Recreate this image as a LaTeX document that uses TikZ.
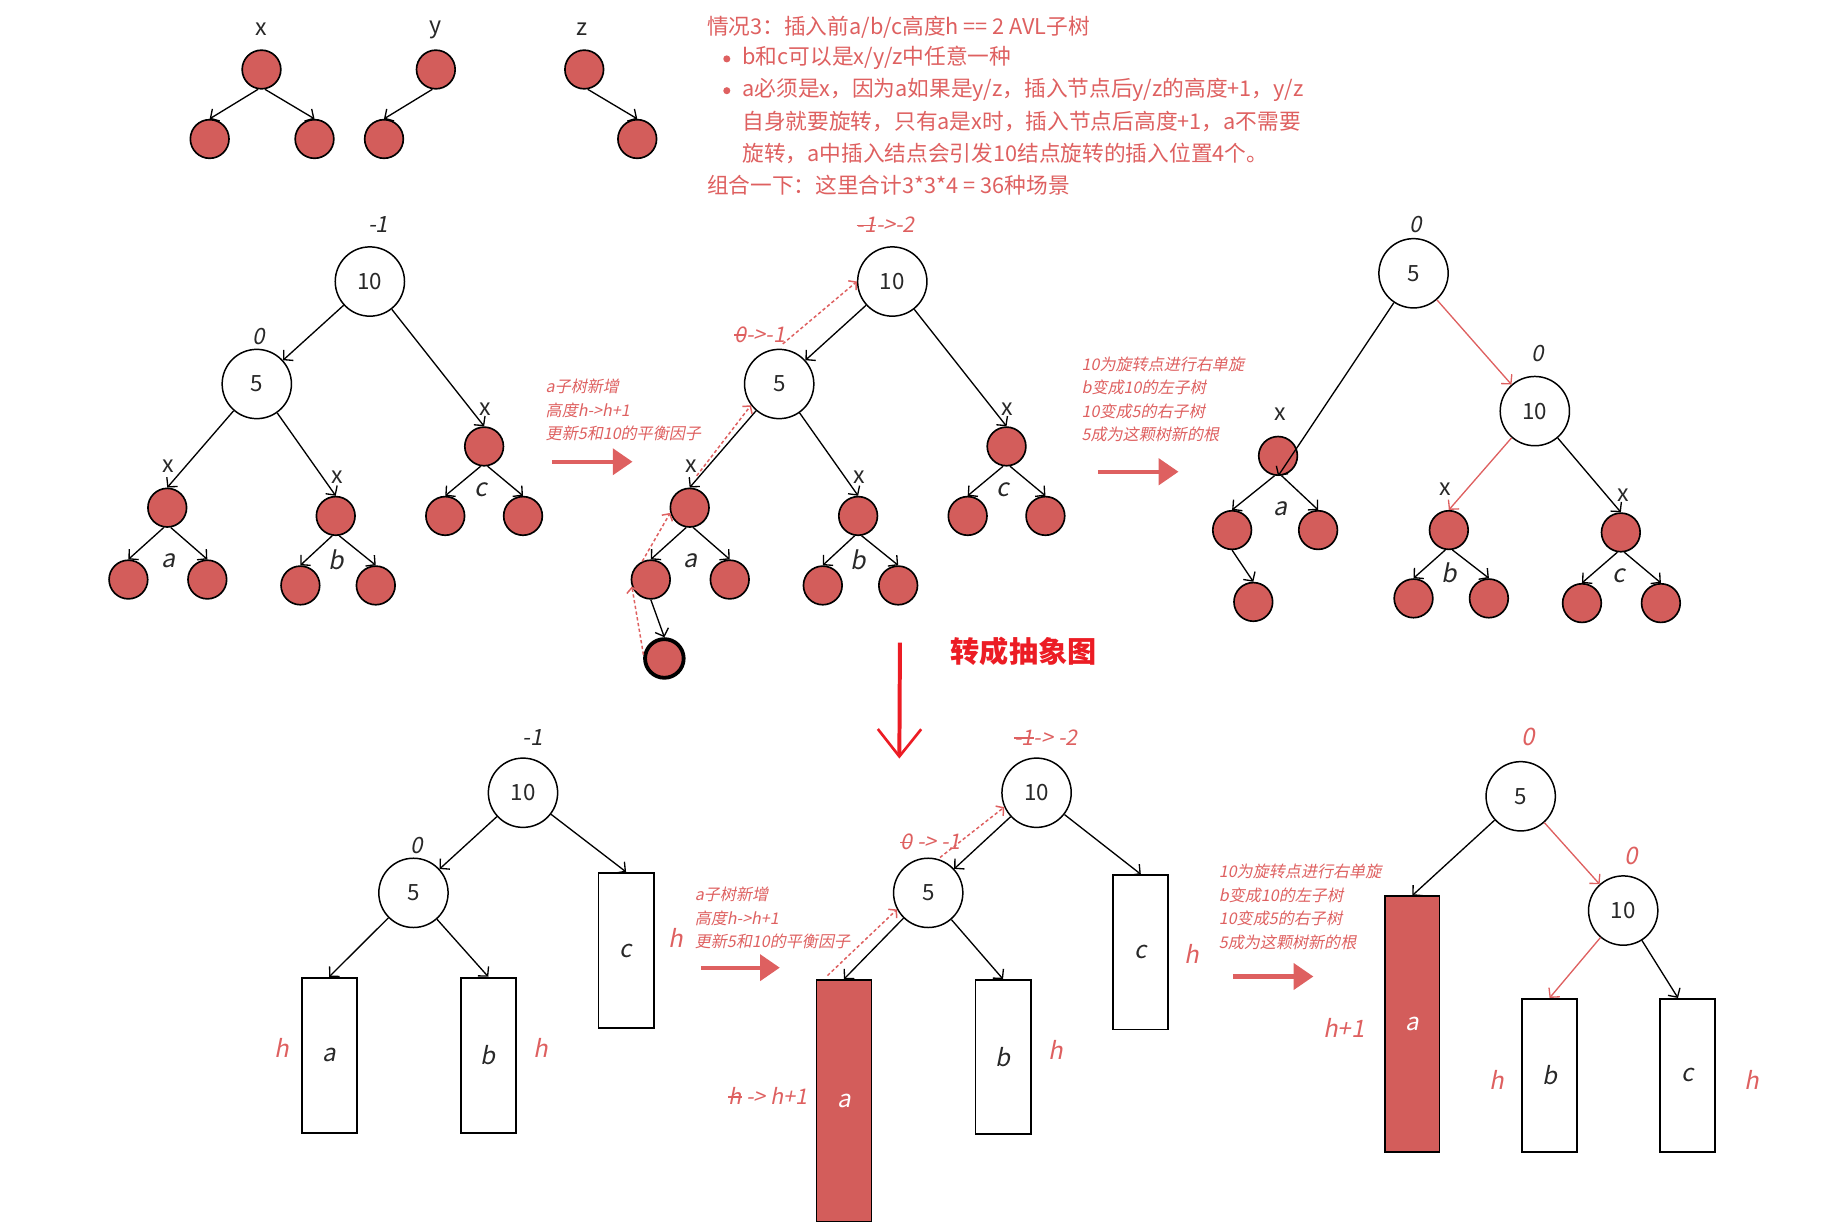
\documentclass[tikz,border=0pt]{standalone}
\usepackage{fontspec}
\setmainfont{Noto Sans CJK SC}
\newfontfamily\slfont[FakeSlant=0.2]{Noto Sans CJK SC}
\newcommand\strk[1]{\setbox0\hbox{#1}\rlap{\copy0}\rule[0.3em]{\wd0}{0.065em}}
\usetikzlibrary{arrows.meta,calc}
\definecolor{nred}{RGB}{211,93,91}
\definecolor{tred}{RGB}{222,96,96}
\definecolor{bred}{RGB}{236,28,36}
\definecolor{ink}{RGB}{40,40,40}
\tikzset{
 rn/.style={circle,draw=black,line width=1pt,fill=nred,minimum size=0.82cm,inner sep=0pt},
 wn/.style={circle,draw=black,line width=0.9pt,fill=white,minimum size=1.47cm,inner sep=0pt,font=\fontsize{13.5pt}{15pt}\selectfont,text=ink},
 wbox/.style={rectangle,draw=black,line width=1.1pt,fill=white,minimum width=1.17cm,inner sep=0pt,font=\slfont\fontsize{14.5pt}{16pt}\selectfont,text=ink},
 rbox/.style={wbox,fill=nred,text=white},
 edge/.style={draw=black,line width=0.8pt,-{Straight Barb[length=1.4mm,width=3mm]}},
 redge/.style={edge,draw=tred},
 dotarr/.style={draw=tred,line width=0.9pt,dash pattern=on 2pt off 1.5pt,-{Straight Barb[length=1.1mm,width=2.6mm]}},
 bigarr/.style={draw=tred,line width=2.6pt,-{Triangle[length=0.42cm,width=0.55cm]}},
 vlab/.style={font=\fontsize{14pt}{16pt}\selectfont,text=ink,inner sep=0pt},
 xlab/.style={font=\fontsize{14pt}{16pt}\selectfont,text=ink,inner sep=0pt},
 slab/.style={font=\slfont\fontsize{15pt}{17pt}\selectfont,text=ink,inner sep=0pt},
 blab/.style={font=\slfont\fontsize{13.5pt}{15pt}\selectfont,text=ink,inner sep=0pt},
 rlab/.style={font=\slfont\fontsize{14.5pt}{16pt}\selectfont,text=tred,inner sep=0pt},
 slb/.style={font=\slfont\fontsize{13pt}{15pt}\selectfont,text=tred,inner sep=0pt},
 note/.style={font=\slfont\fontsize{9.7pt}{14.2pt}\selectfont,text=tred,align=left,anchor=west,inner sep=0pt},
 mtext/.style={font=\fontsize{13.1pt}{19pt}\selectfont,text=tred,anchor=west,inner sep=0pt},
 bul/.style={circle,fill=tred,inner sep=0pt,minimum size=0.15cm}
}
\begin{document}
\begin{tikzpicture}[x=0.025cm,y=-0.025cm]
\useasboundingbox (0,0) rectangle (1568,1043);

% ---------- small trees x y z
\node[vlab] (lx) at (222,25) {x};
\node[rn] (sx) at (222,59) {};
\node[rn] (sx1) at (178,118) {};
\node[rn] (sx2) at (267,118) {};
\node[vlab] (ly) at (370,25) {y};
\node[rn] (sy) at (370,59) {};
\node[rn] (sy1) at (326,118) {};
\node[vlab] (lz) at (494,25) {z};
\node[rn] (sz) at (496,59) {};
\node[rn] (sz1) at (541,118) {};
\draw[edge] (sx.260)--(sx1.north);
\draw[edge] (sx.280)--(sx2.north);
\draw[edge] (sy.260)--(sy1.north);
\draw[edge] (sz.280)--(sz1.north);

% ---------- text block
\node[mtext] (m1) at (600,23) {情况3：插入前a/b/c高度h == 2 AVL子树};
\node[bul] (mb1) at (617,50) {};
\node[mtext] (m2) at (630,49) {b和c可以是x/y/z中任意一种};
\node[bul] (mb2) at (617,77) {};
\node[mtext] (m3) at (630,76) {a必须是x，因为a如果是y/z，插入节点后y/z的高度+1，y/z};
\node[mtext] (m4) at (630,103) {自身就要旋转，只有a是x时，插入节点后高度+1，a不需要};
\node[mtext] (m5) at (630,130) {旋转，a中插入结点会引发10结点旋转的插入位置4个。};
\node[mtext] (m6) at (600,157) {组合一下：这里合计3*3*4 = 36种场景};

% ---------- tree 1
\node[blab] (t1rb) at (321,191) {-1};
\node[wn] (t1r) at (314,239) {10};
\node[blab] (t1fb) at (220,286) {0};
\node[wn] (t1f) at (218,326) {5};
\node[rn] (t1a) at (142,431) {};
\node[rn] (t1a1) at (109,492) {};
\node[rn] (t1a2) at (176,492) {};
\node[xlab] (t1ax) at (143,396) {x};
\node[slab] (t1al) at (143,476) {a};
\node[rn] (t1b) at (285,438) {};
\node[rn] (t1b1) at (255,497) {};
\node[rn] (t1b2) at (319,497) {};
\node[xlab] (t1bx) at (286,405) {x};
\node[slab] (t1bl) at (285,475) {b};
\node[rn] (t1c) at (411,379) {};
\node[rn] (t1c1) at (378,438) {};
\node[rn] (t1c2) at (444,438) {};
\node[xlab] (t1cx) at (412,347) {x};
\node[slab] (t1cl) at (408,416) {c};
\draw[edge] (t1r)--(t1f);
\draw[edge] (t1r)--(t1c.north);
\draw[edge] (t1f)--(t1a.north);
\draw[edge] (t1f)--(t1b.north);
\draw[edge] (t1a.260)--(t1a1.north);
\draw[edge] (t1a.280)--(t1a2.north);
\draw[edge] (t1b.260)--(t1b1.north);
\draw[edge] (t1b.280)--(t1b2.north);
\draw[edge] (t1c.260)--(t1c1.north);
\draw[edge] (t1c.280)--(t1c2.north);

% arrow 1
\node[note] (n1) at (463,348) {a子树新增\\高度h->h+1\\更新5和10的平衡因子};
\coordinate (a1s) at (469,392);
\coordinate (a1e) at (537,392);
\draw[bigarr] (a1s)--(a1e);

% ---------- tree 2
\node[slb] (t2rb) at (752,191) {\strk{-1}->-2};
\node[wn] (t2r) at (757.5,239) {10};
\node[slb] (t2fb) at (645,284) {\strk{0}->-1};
\node[wn] (t2f) at (661.5,326) {5};
\node[rn] (t2a) at (585.5,431) {};
\node[rn] (t2a1) at (552.5,492) {};
\node[rn] (t2a2) at (619.5,492) {};
\node[xlab] (t2ax) at (586.5,396) {x};
\node[slab] (t2al) at (586.5,476) {a};
\node[rn,line width=2.3pt] (t2n) at (564,559) {};
\node[rn] (t2b) at (728.5,438) {};
\node[rn] (t2b1) at (698.5,497) {};
\node[rn] (t2b2) at (762.5,497) {};
\node[xlab] (t2bx) at (729.5,405) {x};
\node[slab] (t2bl) at (728.5,475) {b};
\node[rn] (t2c) at (854.5,379) {};
\node[rn] (t2c1) at (821.5,438) {};
\node[rn] (t2c2) at (887.5,438) {};
\node[xlab] (t2cx) at (855.5,347) {x};
\node[slab] (t2cl) at (851.5,416) {c};
\draw[edge] (t2r)--(t2f);
\draw[edge] (t2r)--(t2c.north);
\draw[edge] (t2f)--(t2a.north);
\draw[edge] (t2f)--(t2b.north);
\draw[edge] (t2a.260)--(t2a1.north);
\draw[edge] (t2a.280)--(t2a2.north);
\draw[edge] (t2a1.south)--(t2n.north);
\draw[edge] (t2b.260)--(t2b1.north);
\draw[edge] (t2b.280)--(t2b2.north);
\draw[edge] (t2c.260)--(t2c1.north);
\draw[edge] (t2c.280)--(t2c2.north);
\draw[dotarr] (t2n.170) -- (t2a1.200);
\draw[dotarr] (t2a1.115) -- (t2a.195);
\draw[dotarr] ([shift={(6,-10)}]t2a.north) -- (t2f.217);
\draw[dotarr] ([shift={(3,-4)}]t2f.north) -- (t2r.west);

% arrow 2
\node[note] (n2) at (918,339) {10为旋转点进行右单旋\\b变成10的左子树\\10变成5的右子树\\5成为这颗树新的根};
\coordinate (a2s) at (932,400.5);
\coordinate (a2e) at (1000.5,400.5);
\draw[bigarr] (a2s)--(a2e);

% ---------- tree 3
\node[blab] (t3rb) at (1202,191) {0};
\node[wn] (t3r) at (1200,232) {5};
\node[blab] (t3tb) at (1305,300) {0};
\node[wn] (t3t) at (1303,349) {10};
\node[rn] (t3a) at (1085,387) {};
\node[xlab] (t3ax) at (1087,352) {x};
\node[rn] (t3a1) at (1046,450) {};
\node[rn] (t3a2) at (1119,450) {};
\node[slab] (t3al) at (1087,432) {a};
\node[rn] (t3a3) at (1064,511) {};
\node[rn] (t3b) at (1230,450) {};
\node[xlab] (t3bx) at (1227,415) {x};
\node[rn] (t3b1) at (1200,508) {};
\node[rn] (t3b2) at (1264,508) {};
\node[slab] (t3bl) at (1230,486) {b};
\node[rn] (t3c) at (1376,452) {};
\node[xlab] (t3cx) at (1378,420) {x};
\node[rn] (t3c1) at (1343,512) {};
\node[rn] (t3c2) at (1410,512) {};
\node[slab] (t3cl) at (1374,489) {c};
\draw[edge] (t3r)--(t3a.south);
\draw[redge] (t3r)--(t3t);
\draw[redge] (t3t)--(t3b.north);
\draw[edge] (t3t)--(t3c.north);
\draw[edge] (t3a.260)--(t3a1.north);
\draw[edge] (t3a.280)--(t3a2.north);
\draw[edge] (t3a1.south)--(t3a3.north);
\draw[edge] (t3b.260)--(t3b1.north);
\draw[edge] (t3b.280)--(t3b2.north);
\draw[edge] (t3c.260)--(t3c1.north);
\draw[edge] (t3c.280)--(t3c2.north);

% ---------- title + vertical arrow
\node[font=\bfseries\fontsize{17.6pt}{20pt}\selectfont,text=bred,inner sep=0pt] (ttl) at (869,553) {转成抽象图};
\coordinate (v1) at (764,545.5);
\coordinate (v2) at (763.5,644);
\draw[draw=bred,line width=2.4pt,-{Straight Barb[length=0.58cm,width=0.92cm,line width=1.6pt]}] (v1)--(v2);

% ---------- bottom tree 1
\node[blab] (b1rb) at (452.5,626) {-1};
\node[wn] (b1r) at (444,673) {10};
\node[blab] (b1fb) at (354,718) {0};
\node[wn] (b1f) at (351,758) {5};
\node[wbox,minimum height=3.3cm] (b1a) at (279.5,896) {a};
\node[wbox,minimum height=3.3cm] (b1b) at (414.5,896) {b};
\node[wbox,minimum height=3.3cm] (b1c) at (531.5,807) {c};
\node[rlab] (b1ah) at (239,890) {h};
\node[rlab] (b1bh) at (459,890) {h};
\node[rlab] (b1ch) at (574,796) {h};
\draw[edge] (b1r)--(b1f);
\draw[edge] (b1r)--(b1c.north);
\draw[edge] (b1f)--(b1a.north);
\draw[edge] (b1f)--(b1b.north);

% arrow 3
\node[note] (n3) at (589.6,779.3) {a子树新增\\高度h->h+1\\更新5和10的平衡因子};
\coordinate (a3s) at (595,821.5);
\coordinate (a3e) at (662,821.5);
\draw[bigarr] (a3s)--(a3e);

% ---------- bottom tree 2
\node[slb] (b2rb) at (888,626) {\strk{-1}-> -2};
\node[wn] (b2r) at (880,673) {10};
\node[slb] (b2fb) at (790,715) {\strk{0} -> -1};
\node[wn] (b2f) at (788,758) {5};
\node[rbox,minimum height=5.125cm] (b2a) at (716.5,934.5) {a};
\node[wbox,minimum height=3.275cm] (b2b) at (851.5,897.5) {b};
\node[wbox,minimum height=3.275cm] (b2c) at (968.5,808.5) {c};
\node[slb] (b2ah) at (652,930) {\strk{h} -> h+1};
\node[rlab] (b2bh) at (896,891) {h};
\node[rlab] (b2ch) at (1012,810) {h};
\draw[edge] (b2r)--(b2f);
\draw[edge] (b2r)--(b2c.north);
\draw[edge] (b2f)--(b2a.north);
\draw[edge] (b2f)--(b2b.north);
\draw[dotarr] ([shift={(-14,-3)}]b2a.north) -- (b2f.208);
\draw[dotarr] ([shift={(10,0)}]b2f.north) -- (b2r.204);

% arrow 4
\node[note] (n4) at (1034.5,769.8) {10为旋转点进行右单旋\\b变成10的左子树\\10变成5的右子树\\5成为这颗树新的根};
\coordinate (a4s) at (1046.7,829);
\coordinate (a4e) at (1115,829);
\draw[bigarr] (a4s)--(a4e);

% ---------- bottom tree 3
\node[rlab] (b3rb) at (1297.5,626) {0};
\node[wn] (b3r) at (1291,676) {5};
\node[rlab] (b3tb) at (1384.5,727) {0};
\node[wn] (b3t) at (1378,773) {10};
\node[rbox,minimum width=1.15cm,minimum height=5.425cm] (b3a) at (1199,869.5) {a};
\node[wbox,minimum height=3.25cm] (b3b) at (1315.5,913) {b};
\node[wbox,minimum height=3.25cm] (b3c) at (1432.5,913) {c};
\node[rlab] (b3ah) at (1141,873) {h+1};
\node[rlab] (b3bh) at (1271,917) {h};
\node[rlab] (b3ch) at (1487,917) {h};
\draw[edge] (b3r)--(b3a.north);
\draw[redge] (b3r)--(b3t);
\draw[redge] (b3t)--(b3b.north);
\draw[edge] (b3t)--([shift={(-8,0)}]b3c.north);
\end{tikzpicture}
\end{document}
